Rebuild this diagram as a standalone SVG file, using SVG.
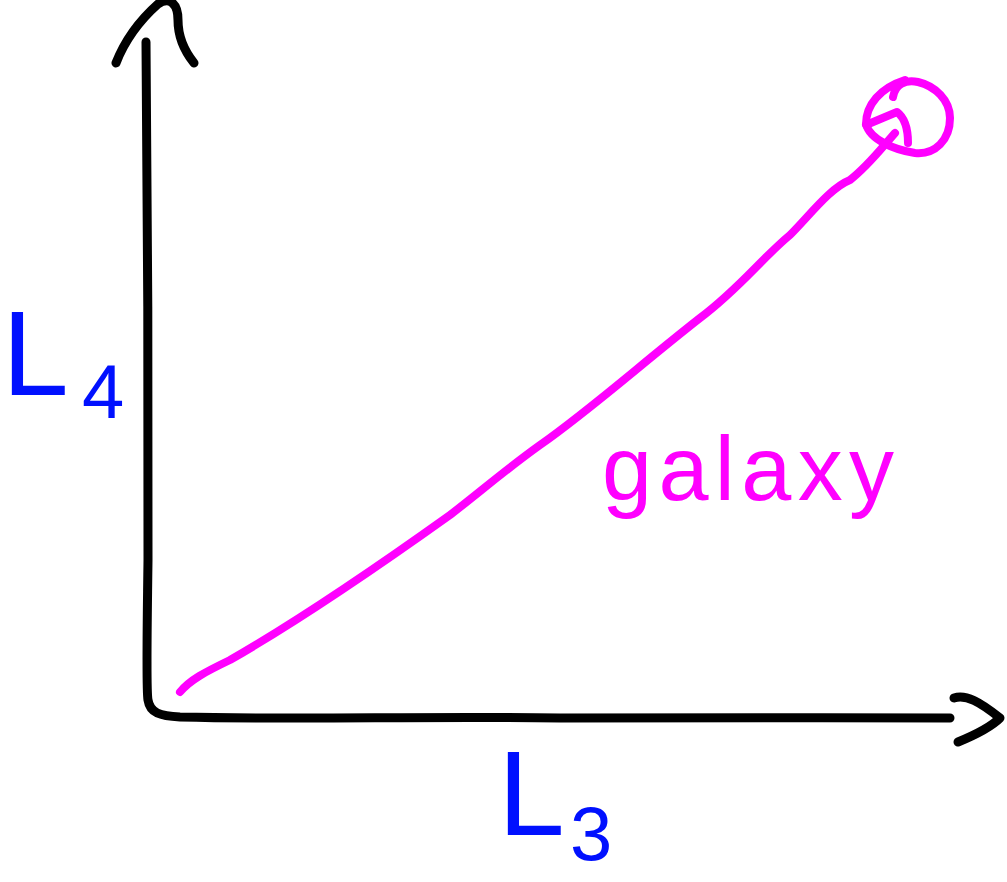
<svg xmlns="http://www.w3.org/2000/svg" width="1007" height="882" viewBox="0 0 1007 882">
<style>
.ax{fill:none;stroke:#000;stroke-width:9;stroke-linecap:round;stroke-linejoin:round}
.pk{fill:none;stroke:#ff00ff;stroke-width:8;stroke-linecap:round;stroke-linejoin:round}
.bl{fill:#0010ff;font-family:"Liberation Sans",Arial,sans-serif}
.pt{fill:#ff00ff;font-family:"Liberation Sans",Arial,sans-serif}
</style>
<rect width="1007" height="882" fill="#fff"/>
<g id="axes">
<path class="ax" d="M146,42 C147,200 149,400 148,560 C147,640 146,690 148,700 C150,713 160,716 180,717 C300,720 420,716 560,718 C700,719 820,717 950,718"/>
<path class="ax" d="M116,63 C125,40 140,20 158,4 C170,-4 178,4 178,20 C178,35 182,48 194,63"/>
<path class="ax" d="M954,698 C966,694 980,702 1000,718 C990,728 975,735 958,742"/>
</g>
<g id="galaxy-track">
<path class="pk" d="M180,692 C190,680 205,672 230,660 C300,620 380,565 450,515 C480,492 505,470 540,445 C590,410 640,365 700,318 C740,288 760,260 790,235 C810,215 830,188 850,180 C868,166 880,150 895,133"/>
<path class="pk" d="M893,97 C895,85 905,79 918,82 C935,86 950,100 950,118 C950,140 935,155 915,153 C895,150 870,140 866,124 C866,105 880,88 905,80"/>
<path class="pk" d="M866,125 L897,112 C905,118 908,130 908,143"/>
</g>
<g id="labels">
<text class="pt" x="602" y="500" font-size="90" textLength="292" lengthAdjust="spacing">galaxy</text>
<text class="bl" font-size="120"><tspan x="2" y="395">L</tspan><tspan x="82" y="418" font-size="76">4</tspan></text>
<text class="bl" font-size="120"><tspan x="498" y="835">L</tspan><tspan x="570" y="860" font-size="76">3</tspan></text>
</g>
</svg>
